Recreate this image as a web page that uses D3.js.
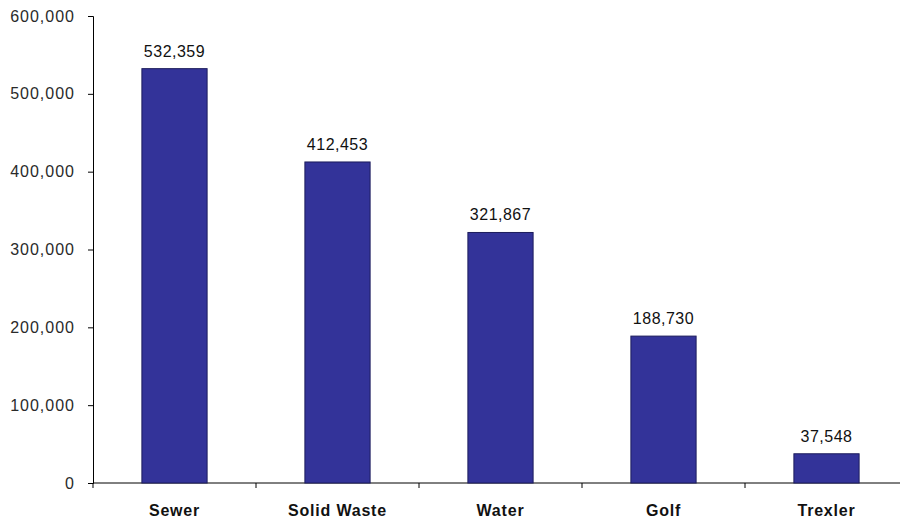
<!DOCTYPE html>
<html>
<head>
<meta charset="utf-8">
<script src="https://cdn.jsdelivr.net/npm/d3@7"></script>
<style>
  body { margin: 0; background: #fff; }
  svg { display: block; font-family: "Liberation Sans", Arial, sans-serif; }
</style>
</head>
<body>
<div class="chart"></div>
<script>
// valores
const categories = ["Sewer", "Solid Waste", "Water", "Golf", "Trexler"];
const values = [532359, 412453, 321867, 188730, 37548];
const yTicks = [0, 100000, 200000, 300000, 400000, 500000, 600000];

const width = 900;
const height = 520;

const svg = d3.select("div.chart")
    .append("svg")
    .attr("width", width)
    .attr("height", height);

const x = d3.scaleBand()
    .domain(categories)
    .range([93, 908])
    .paddingInner(0.6)
    .paddingOuter(0.3);

const y = d3.scaleLinear()
    .domain([0, 600000])
    .range([483, 16]);

const fmt = d3.format(",");

// eixo y
const yAxis = svg.append("g")
    .attr("transform", "translate(93,0)")
    .call(d3.axisLeft(y).tickValues(yTicks).tickFormat(fmt).tickSize(5).tickPadding(13));
yAxis.select(".domain").attr("stroke", "#000");
yAxis.selectAll(".tick line").attr("stroke", "#000");
yAxis.selectAll(".tick text")
    .attr("fill", "#2a2a2a")
    .attr("letter-spacing", "1px")
    .style("font-size", "16px")
    .style("font-family", "Liberation Sans, Arial, sans-serif");

// eixo x com ticks entre as categorias
const bandStep = x.step();
const boundaries = d3.range(categories.length + 1).map(function(i) { return 93 + i * bandStep; });
svg.append("line")
    .attr("x1", 93).attr("x2", 908)
    .attr("y1", y(0)).attr("y2", y(0))
    .attr("stroke", "#000");
svg.append("g")
    .selectAll("line")
    .data(boundaries)
    .enter()
    .append("line")
    .attr("x1", function(d) { return d; })
    .attr("x2", function(d) { return d; })
    .attr("y1", y(0))
    .attr("y2", y(0) + 5)
    .attr("stroke", "#000");

svg.append("g")
    .selectAll("text")
    .data(categories)
    .enter()
    .append("text")
    .attr("x", function(d) { return x(d) + x.bandwidth() / 2; })
    .attr("y", 516)
    .attr("text-anchor", "middle")
    .attr("font-size", "16px")
    .attr("font-weight", "bold")
    .attr("letter-spacing", "0.8px")
    .attr("fill", "#111")
    .text(function(d) { return d; });

// barras
svg.append("g")
    .selectAll("rect")
    .data(values)
    .enter()
    .append("rect")
    .attr("x", function(d, i) { return x(categories[i]); })
    .attr("y", function(d) { return y(d); })
    .attr("width", x.bandwidth())
    .attr("height", function(d) { return y(0) - y(d); })
    .attr("fill", "#333399")
    .attr("stroke", "#1c1c5c")
    .attr("stroke-width", 1);

// rotulos de valor
svg.append("g")
    .selectAll("text")
    .data(values)
    .enter()
    .append("text")
    .attr("x", function(d, i) { return x(categories[i]) + x.bandwidth() / 2; })
    .attr("y", function(d) { return y(d) - 12; })
    .attr("text-anchor", "middle")
    .attr("font-size", "16px")
    .attr("fill", "#111")
    .attr("letter-spacing", "0.5px")
    .text(function(d) { return fmt(d); });
</script>
</body>
</html>
